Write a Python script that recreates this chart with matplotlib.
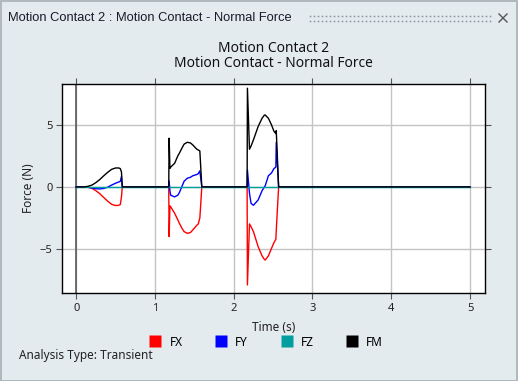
import numpy as np
import matplotlib
matplotlib.use('Agg')
import matplotlib.pyplot as plt
from matplotlib.lines import Line2D
from matplotlib.patches import Rectangle

# ---- data ----
t_b1 = [0.10, 0.15, 0.20, 0.25, 0.30, 0.35, 0.40, 0.45, 0.50, 0.54, 0.56, 0.575, 0.585]
fx_b1 = [0, -0.03, -0.12, -0.30, -0.55, -0.85, -1.15, -1.40, -1.50, -1.48, -1.42, -0.80, 0]
fy_b1 = [0, -0.02, -0.08, -0.14, -0.16, -0.12, -0.02, 0.15, 0.30, 0.40, 0.45, 0.85, 0]
fm_b1 = [0, 0.05, 0.15, 0.35, 0.60, 0.90, 1.18, 1.42, 1.53, 1.53, 1.48, 1.20, 0]

t_b2 = [1.175, 1.18, 1.19, 1.20, 1.25, 1.29, 1.31, 1.34, 1.37, 1.41, 1.45, 1.48, 1.53, 1.55, 1.57, 1.595]
fx_b2 = [0, -4.0, -1.53, -1.6, -2.12, -2.65, -2.93, -3.3, -3.6, -3.74, -3.68, -3.47, -3.1, -2.98, -2.5, 0]
fy_b2 = [0, 0.48, -0.3, -0.67, -0.8, -0.67, -0.45, 0.0, 0.46, 0.7, 0.78, 0.9, 1.0, 1.07, 1.3, 0]
fm_b2 = [0, 3.93, 1.5, 1.6, 1.91, 2.5, 2.72, 3.1, 3.45, 3.6, 3.55, 3.39, 3.05, 2.98, 2.9, 0]

t_b3 = [2.17, 2.174, 2.20, 2.22, 2.25, 2.31, 2.36, 2.39, 2.40, 2.44, 2.48, 2.51, 2.535, 2.54, 2.57]
fx_b3 = [0, -7.9, -2.98, -3.2, -3.6, -4.81, -5.56, -5.85, -5.89, -5.56, -4.95, -4.5, -4.22, -3.5, 0]
fy_b3 = [0, 1.37, -0.51, -1.32, -1.48, -1.05, -0.3, 0.0, 0.1, 0.9, 1.13, 1.48, 1.6, 3.6, 0]
fm_b3 = [0, 7.96, 3.04, 3.3, 3.79, 4.87, 5.54, 5.8, 5.8, 5.54, 5.0, 4.5, 4.3, 4.54, 0]

t = [0.0] + t_b1 + t_b2 + t_b3 + [5.0]
FX = [0.0] + fx_b1 + fx_b2 + fx_b3 + [0.0]
FY = [0.0] + fy_b1 + fy_b2 + fy_b3 + [0.0]
FM = [0.0] + fm_b1 + fm_b2 + fm_b3 + [0.0]
FZ = [0.0] * len(t)

labels = ['FX', 'FY', 'FZ', 'FM']
colors = ['#ff0000', '#0000ff', '#009e9e', '#000000']

W, H = 518, 381
bg = '#e4ebef'
font = 'Noto Sans'

fig = plt.figure(figsize=(W/100, H/100), dpi=100, facecolor=bg)

def fx_(px): return px / W
def fy_(py): return 1 - py / H

# window frame
fig.patches.append(Rectangle((0.5/W, 0.5/H), (W-1.5)/W, (H-1.5)/H, transform=fig.transFigure,
                             fill=False, edgecolor='#a9b0b5', lw=1.2))
fig.text(fx_(8), fy_(18), 'Motion Contact 2 : Motion Contact - Normal Force',
         family='Liberation Sans', fontsize=9.3, color='#1a1a2a', va='center', ha='left')
# grip dots
gx = np.arange(310, 491, 4)
for gy in (16, 21):
    fig.add_artist(Line2D(fx_(gx), [fy_(gy)]*len(gx), transform=fig.transFigure,
                          ls='none', marker='s', ms=1.1, mfc='#8a9298', mec='none'))
# close x
for d in (1, -1):
    fig.add_artist(Line2D([fx_(499), fx_(507)], [fy_(18-4*d), fy_(18+4*d)],
                          transform=fig.transFigure, color='#555555', lw=1))

ax = fig.add_axes([fx_(62), fy_(293), fx_(485)-fx_(62), fy_(84)-fy_(293)])
ax.set_facecolor('white')
for lab, col, ys in zip(labels, colors, [FX, FY, FZ, FM]):
    ax.plot(t, ys, color=col, lw=1.0, label=lab, zorder=3)
ax.axvline(0, color='#5a5a5a', lw=1.2, zorder=2)

ax.set_xlim(-0.18, 5.19)
ax.set_ylim(-8.55, 8.3)
ax.set_xticks([0, 1, 2, 3, 4, 5])
ax.set_yticks([-5, 0, 5])
ax.grid(True, color='#c4c4c4', lw=1.0, zorder=1)
ax.tick_params(axis='both', which='both', direction='out', length=4, width=0.8,
               color='#555555', labelsize=8, labelcolor='#222222', pad=3,
               top=True, right=True)
for s in ax.spines.values():
    s.set_color('black')
    s.set_linewidth(1.0)
for lbl in ax.get_xticklabels() + ax.get_yticklabels():
    lbl.set_family(font)

ax.set_xlabel('Time (s)', family=font, fontsize=8.5, color='#222222', labelpad=5)
ax.set_ylabel('Force (N)', family=font, fontsize=8.5, color='#222222', labelpad=3)
ax.set_title('Motion Contact 2\nMotion Contact - Normal Force', family=font,
             fontsize=9.9, color='#111111', linespacing=1.0, pad=12)

handles = [Line2D([], [], ls='none', marker='s', ms=8, mfc=c, mec='none') for c in colors]
fig.legend(handles, labels, ncol=4, loc='center', bbox_to_anchor=(fx_(267), fy_(342)),
           frameon=False, prop={'family': font, 'size': 8.5}, handlelength=0.8,
           handletextpad=0.8, columnspacing=2.86)

fig.text(fx_(19), fy_(356), 'Analysis Type: Transient', family=font, fontsize=8.5,
         color='#222222', va='center', ha='left')

fig.savefig('out.png', dpi=100, facecolor=bg)
